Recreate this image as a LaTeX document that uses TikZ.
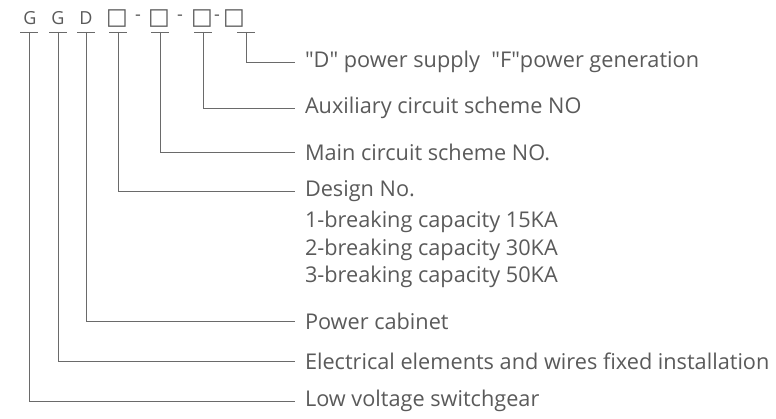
\documentclass[tikz,border=0pt]{standalone}
\usepackage{fontspec}
\setmainfont{Open Sans}
\newfontfamily\symfont{DejaVu Sans}
\usepackage{xcolor}
\definecolor{inkgray}{HTML}{5a5a5a}
\definecolor{linegray}{HTML}{6a6a6a}

\begin{document}
\begin{tikzpicture}[
  x=1pt, y=-1pt,
  code/.style={inner sep=0pt, font=\fontsize{18}{20}\selectfont, text=inkgray},
  box/.style={inner sep=0pt, font=\symfont\fontsize{23}{24}\selectfont, text=inkgray},
  meaning/.style={anchor=west, inner sep=0pt, outer xsep=10pt, align=left,
                  font=\fontsize{21.7}{27.5}\selectfont, text=inkgray},
  leader/.style={draw=linegray, line width=0.9pt},
]
  \useasboundingbox (0,0) rectangle (776,419);

  % code letters
  \node[code] (g1)  at (30, 18)  {G};
  \node[code] (g2)  at (58, 18)  {G};
  \node[code] (d)   at (86, 18)  {D};
  \node[box]  (sq1) at (117, 19) {□};
  \node[code] (h1)  at (138, 18) {-};
  \node[box]  (sq2) at (159, 19) {□};
  \node[code] (h2)  at (180, 18) {-};
  \node[box]  (sq3) at (202, 19) {□};
  \node[code] (h3)  at (217, 18) {-};
  \node[box]  (sq4) at (234, 19) {□};

  % ticks under the letters
  \coordinate (g1-t)  at (29, 32);
  \coordinate (g2-t)  at (58, 32);
  \coordinate (d-t)   at (86, 32);
  \coordinate (sq1-t) at (118, 32);
  \coordinate (sq2-t) at (160, 32);
  \coordinate (sq3-t) at (203, 32);
  \coordinate (sq4-t) at (246, 32);
  \foreach \c in {g1, g2, d, sq1, sq2, sq3, sq4}
    \draw[leader] ([xshift=-9pt]\c-t) -- ([xshift=9pt]\c-t);

  % meanings
  \node[meaning] (supply) at (295, 62)
    {\textquotedbl D\textquotedbl{} power supply\ \ \textquotedbl F\textquotedbl power generation};
  \node[meaning] (aux)    at (295, 108) {Auxiliary circuit scheme NO};
  \node[meaning] (mainc)  at (295, 152) {Main circuit scheme NO.};
  \node[meaning] (design) at (295, 191) {Design No.};
  \node[meaning, anchor=base west] (capac) at (295, 283)
    {1-breaking capacity 15KA\\2-breaking capacity 30KA\\3-breaking capacity 50KA};
  \node[meaning] (cabinet) at (295, 321) {Power cabinet};
  \node[meaning] (fixed)   at (295, 361) {Electrical elements and wires fixed installation};
  \node[meaning] (lowv)    at (295, 401) {Low voltage switchgear};

  % leaders
  \draw[leader] (sq4-t) |- (supply.west);
  \draw[leader] (sq3-t) |- (aux.west);
  \draw[leader] (sq2-t) |- (mainc.west);
  \draw[leader] (sq1-t) |- (design.west);
  \draw[leader] (d-t)   |- (cabinet.west);
  \draw[leader] (g2-t)  |- (fixed.west);
  \draw[leader] (g1-t)  |- (lowv.west);
\end{tikzpicture}
\end{document}
